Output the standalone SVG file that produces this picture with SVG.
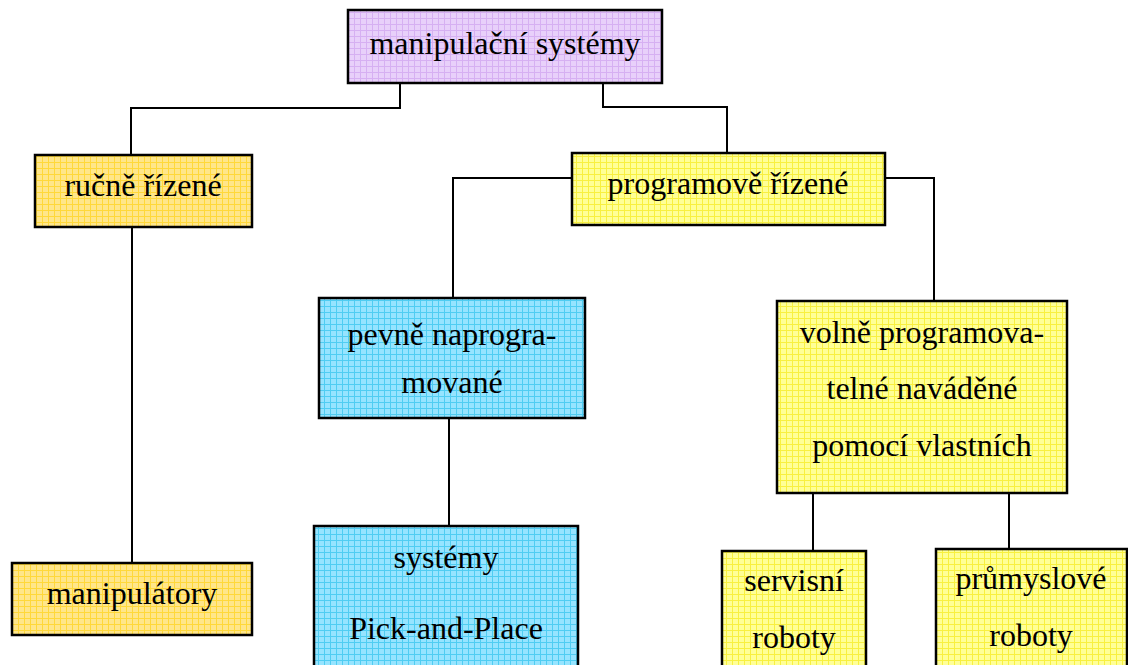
<svg xmlns="http://www.w3.org/2000/svg" width="1128" height="665" viewBox="0 0 1128 665">
<style>
text{font-family:"Liberation Serif","Times New Roman",serif;font-size:32px;fill:#000;text-anchor:middle}
.box{stroke:#000;stroke-width:2.5}
.con{fill:none;stroke:#000;stroke-width:2}
</style>
<defs>
<pattern id="pPurple" width="6" height="6" patternUnits="userSpaceOnUse"><rect width="6" height="6" fill="#E8D0FA"/><path d="M0 0.5H6M0.5 0V6" stroke="#D6B0F2" stroke-width="1"/></pattern>
<pattern id="pGold" width="6" height="6" patternUnits="userSpaceOnUse"><rect width="6" height="6" fill="#FFE68A"/><path d="M0 0.5H6M0.5 0V6" stroke="#FFD83A" stroke-width="1"/></pattern>
<pattern id="pYellow" width="6" height="6" patternUnits="userSpaceOnUse"><rect width="6" height="6" fill="#FFFF96"/><path d="M0 0.5H6M0.5 0V6" stroke="#F8F040" stroke-width="1"/></pattern>
<pattern id="pCyan" width="6" height="6" patternUnits="userSpaceOnUse"><rect width="6" height="6" fill="#96E4FF"/><path d="M0 0.5H6M0.5 0V6" stroke="#50CDF2" stroke-width="1"/></pattern>
</defs>
<g id="connectors">
<path class="con" d="M400 83V108H131V155"/>
<path class="con" d="M603 83V107H727V153"/>
<path class="con" d="M132 227V563"/>
<path class="con" d="M572 178H453V298"/>
<path class="con" d="M885 178H934V301"/>
<path class="con" d="M449 418V526"/>
<path class="con" d="M813 493V551"/>
<path class="con" d="M1009 493V549"/>
</g>
<g id="n-manipulacni">
<rect class="box" x="348" y="10" width="314" height="73" fill="url(#pPurple)"/>
<text x="505" y="54">manipulační systémy</text>
</g>
<g id="n-rucne">
<rect class="box" x="35" y="155" width="217" height="72" fill="url(#pGold)"/>
<text x="143" y="196">ručně řízené</text>
</g>
<g id="n-programove">
<rect class="box" x="572" y="153" width="313" height="72" fill="url(#pYellow)"/>
<text x="728" y="194">programově řízené</text>
</g>
<g id="n-pevne">
<rect class="box" x="319" y="298" width="266" height="120" fill="url(#pCyan)"/>
<text x="452" y="345">pevně naprogra-</text>
<text x="452" y="393">mované</text>
</g>
<g id="n-volne">
<rect class="box" x="777" y="301" width="290" height="192" fill="url(#pYellow)"/>
<text x="922" y="343">volně programova-</text>
<text x="922" y="399">telné naváděné</text>
<text x="922" y="456">pomocí vlastních</text>
</g>
<g id="n-manipulatory">
<rect class="box" x="12" y="563" width="240" height="72" fill="url(#pGold)"/>
<text x="132" y="604">manipulátory</text>
</g>
<g id="n-pickplace">
<rect class="box" x="314" y="526" width="264" height="150" fill="url(#pCyan)"/>
<text x="446" y="568">systémy</text>
<text x="446" y="639">Pick-and-Place</text>
</g>
<g id="n-servisni">
<rect class="box" x="722" y="551" width="144" height="130" fill="url(#pYellow)"/>
<text x="794" y="591">servisní</text>
<text x="794" y="648">roboty</text>
</g>
<g id="n-prumyslove">
<rect class="box" x="936" y="549" width="191" height="130" fill="url(#pYellow)"/>
<text x="1031" y="589">průmyslové</text>
<text x="1031" y="646">roboty</text>
</g>
</svg>
